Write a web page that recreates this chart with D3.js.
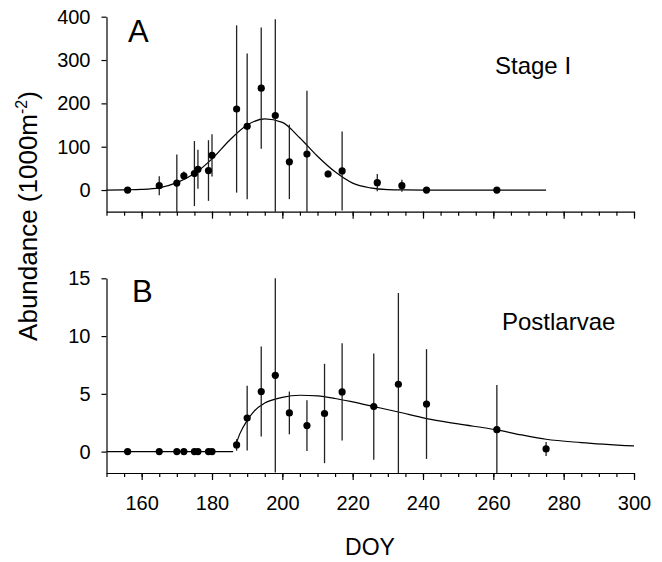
<!DOCTYPE html>
<head>
	<script src="https://d3js.org/d3.v7.min.js"></script>
	<style>
		body { margin: 0; background: #fff; }
		text { font-family: Arial, "Liberation Sans", sans-serif; fill: #000; }
		.tick text { font-size: 20px; }
		.axis path, .axis line { stroke: #000; stroke-width: 1.2; }
	</style>
</head>
<body>
	<script>
		// panel A: Stage I
		var doyA  = [156, 165, 170, 172, 175, 176, 179, 180, 187, 190, 194, 198, 202, 207, 213, 217, 227, 234, 241, 261];
		var meanA = [0, 10, 16, 33, 38, 48, 45, 80, 187, 147, 235, 172, 65, 83, 37, 44, 17, 10, 0, 0];
		var errA  = [0, 22, 66, 10, 75, 45, 70, 49, 193, 168, 140, 222, 86, 146, 8, 91, 20, 14, 0, 0];
		var fitDoyA = [150, 155, 160, 165, 170, 175, 180, 185, 190, 195, 200, 205, 210, 215, 220, 225, 230, 235, 240, 250, 260, 275];
		var fitA    = [0, 0.5, 1.5, 5, 17, 38, 72, 115, 150, 164, 156, 120, 78, 42, 16, 5, 1, 0.3, 0, 0, 0, 0];

		// panel B: Postlarvae
		var doyB  = [156, 165, 170, 172, 175, 176, 179, 180, 187, 190, 194, 198, 202, 207, 212, 217, 226, 233, 241, 261, 275];
		var meanB = [0, 0, 0, 0, 0, 0, 0, 0, 0.58, 2.9, 5.2, 6.6, 3.35, 2.25, 3.3, 5.17, 3.9, 5.83, 4.12, 1.9, 0.23];
		var errB  = [0, 0, 0, 0, 0, 0, 0, 0, 0.5, 2.8, 3.9, 8.4, 1.85, 2.2, 4.3, 4.2, 4.6, 7.9, 4.75, 3.87, 0.6];
		var flatDoyB = [150, 186];
		var flatB    = [0, 0];
		var fitDoyB = [187, 188, 190, 192, 195, 200, 205, 210, 215, 220, 226, 233, 241, 250, 261, 268, 275, 285, 300];
		var fitB    = [0.8, 1.6, 2.7, 3.5, 4.2, 4.7, 4.88, 4.82, 4.6, 4.3, 3.9, 3.43, 2.86, 2.4, 1.88, 1.45, 1.07, 0.78, 0.49];

		var ticksA = [0, 100, 200, 300, 400];
		var ticksB = [0, 5, 10, 15];
		var majorX = d3.range(160, 301, 20);
		var minorX = d3.range(150, 301, 5);

		var width = 662, height = 562;
		var svg = d3.select("body").append("svg")
			.attr("width", width)
			.attr("height", height);

		var x = d3.scaleLinear().domain([150, 300]).range([106.5, 634]);

		function panel(cfg) {
			var y = d3.scaleLinear().domain(cfg.yDomain).range(cfg.yRange).clamp(true);
			var g = svg.append("g");
			var zip = (a, b) => a.map((d, i) => [d, b[i]]);

			var line = d3.line()
				.x(d => x(d[0]))
				.y(d => y(d[1]))
				.curve(d3.curveMonotoneX);

			cfg.fits.forEach(f => {
				g.append("path")
					.attr("d", line(zip(f[0], f[1])))
					.attr("fill", "none")
					.attr("stroke", "#000")
					.attr("stroke-width", 1.2);
			});

			var pts = cfg.doy.map((d, i) => ({ doy: d, m: cfg.mean[i], e: cfg.err[i] }));

			g.selectAll(".err")
				.data(pts.filter(d => d.e > 0))
				.enter().append("line")
				.attr("x1", d => x(d.doy))
				.attr("x2", d => x(d.doy))
				.attr("y1", d => y(d.m + d.e))
				.attr("y2", d => y(d.m - d.e))
				.attr("stroke", "#222")
				.attr("stroke-width", 1.3);

			g.selectAll(".dot")
				.data(pts)
				.enter().append("circle")
				.attr("cx", d => x(d.doy))
				.attr("cy", d => y(d.m))
				.attr("r", 3.6)
				.attr("fill", "#000");

			// axes
			var base = cfg.yRange[0];
			g.append("g").attr("class", "axis")
				.attr("transform", "translate(0," + base + ")")
				.call(d3.axisBottom(x).tickValues(minorX).tickSize(4).tickSizeOuter(0).tickFormat(""))
				.call(a => a.select(".domain").remove());
			g.append("g").attr("class", "axis")
				.attr("transform", "translate(0," + base + ")")
				.call(d3.axisBottom(x).tickValues(majorX).tickSize(7).tickSizeOuter(0).tickPadding(16)
					.tickFormat(cfg.xLabels ? d3.format("d") : ""));
			g.append("g").attr("class", "axis")
				.attr("transform", "translate(" + x(150) + ",0)")
				.call(d3.axisLeft(y).tickValues(cfg.yTicks).tickSize(5).tickSizeOuter(0).tickPadding(11));

			g.append("text")
				.attr("x", cfg.letter[1])
				.attr("y", cfg.letter[2])
				.style("font-size", "31px")
				.text(cfg.letter[0]);
			g.append("text")
				.attr("x", cfg.name[1])
				.attr("y", cfg.name[2])
				.style("font-size", "24px")
				.text(cfg.name[0]);
		}

		panel({
			yDomain: [-50, 400], yRange: [211.7, 16.7], yTicks: ticksA,
			doy: doyA, mean: meanA, err: errA,
			fits: [[fitDoyA, fitA]],
			letter: ["A", 128, 42], name: ["Stage I", 495, 74], xLabels: false
		});
		panel({
			yDomain: [-1.85, 15], yRange: [473, 278.3], yTicks: ticksB,
			doy: doyB, mean: meanB, err: errB,
			fits: [[flatDoyB, flatB], [fitDoyB, fitB]],
			letter: ["B", 132, 302], name: ["Postlarvae", 502, 330], xLabels: true
		});

		// axis titles
		var yt = svg.append("text")
			.attr("transform", "translate(37,216) rotate(-90)")
			.attr("text-anchor", "middle")
			.style("font-size", "26px");
		yt.append("tspan").text("Abundance (1000m");
		yt.append("tspan").attr("dy", "-10").style("font-size", "16px").text("-2");
		yt.append("tspan").attr("dy", "10").text(")");

		svg.append("text")
			.attr("x", 370)
			.attr("y", 555)
			.attr("text-anchor", "middle")
			.style("font-size", "23px")
			.text("DOY");
	</script>
</body>
</html>
